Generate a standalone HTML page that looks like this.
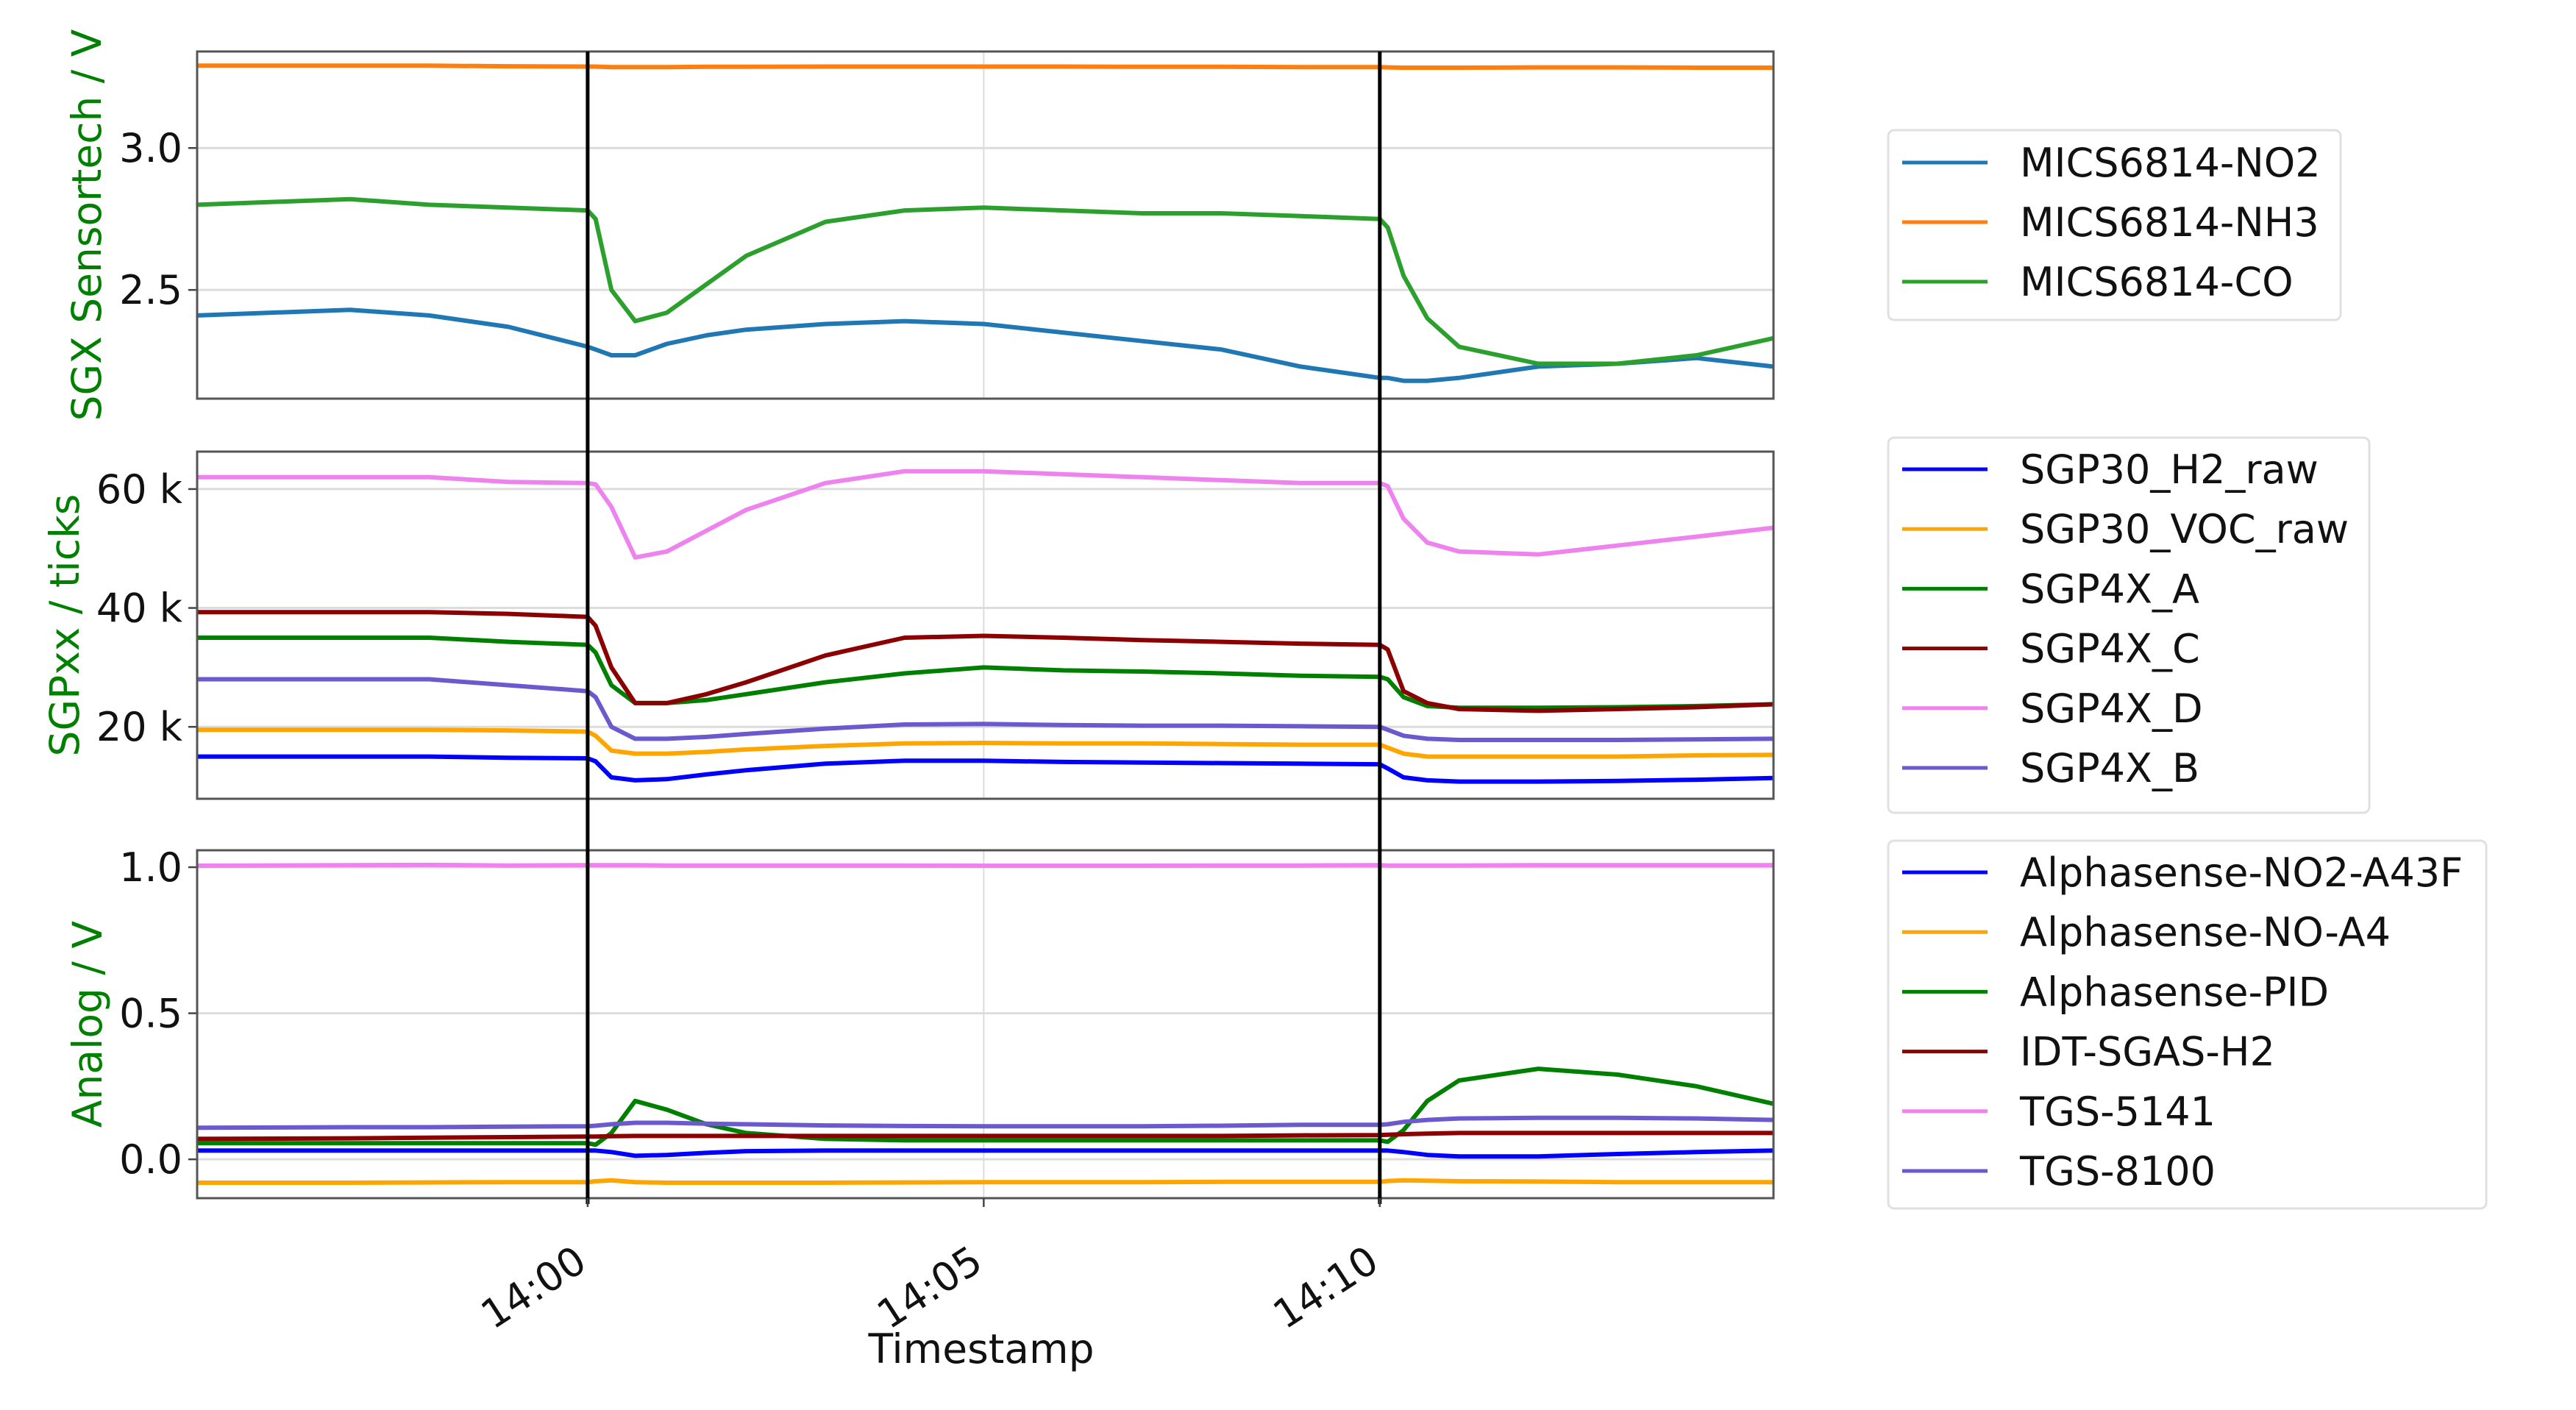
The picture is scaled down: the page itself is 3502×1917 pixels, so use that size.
<!DOCTYPE html>
<html><head><meta charset="utf-8"><style>
html,body{margin:0;padding:0;background:#fff;}
svg text{font-family:"DejaVu Sans","Liberation Sans",sans-serif;}
</style></head><body>
<svg id="chart" xmlns="http://www.w3.org/2000/svg" width="3502" height="1912" viewBox="0 0 3502 1912">
<rect x="0" y="0" width="3502" height="1912" fill="#fff"/>
<g id="grids"></g><g id="series"></g><g id="frames"></g><g id="labels"></g><g id="legends"></g>
</svg>
<script>
// shared time knots (minutes relative to 14:00)
const times = [-4.93,-3,-2,-1,0,0.1,0.3,0.6,1,1.5,2,3,4,5,6,7,8,9,10,10.1,10.3,10.6,11,12,13,14,14.97];
// top panel (V)
const micsNO2 = [2.41,2.43,2.41,2.37,2.30,2.29,2.27,2.27,2.31,2.34,2.36,2.38,2.39,2.38,2.35,2.32,2.29,2.23,2.19,2.19,2.18,2.18,2.19,2.23,2.24,2.26,2.23];
const micsNH3 = [3.29,3.29,3.29,3.288,3.287,3.287,3.285,3.285,3.285,3.286,3.286,3.287,3.287,3.287,3.287,3.286,3.286,3.285,3.285,3.284,3.283,3.283,3.283,3.284,3.284,3.283,3.283];
const micsCO  = [2.80,2.82,2.80,2.79,2.78,2.75,2.50,2.39,2.42,2.52,2.62,2.74,2.78,2.79,2.78,2.77,2.77,2.76,2.75,2.72,2.55,2.40,2.30,2.24,2.24,2.27,2.33];
// middle panel (k ticks)
const sgp30H2  = [15,15,15,14.8,14.7,14.2,11.5,11,11.2,12,12.7,13.8,14.3,14.3,14.1,14,13.9,13.8,13.7,13,11.5,11,10.8,10.8,10.9,11.1,11.4];
const sgp30VOC = [19.5,19.5,19.5,19.4,19.2,18.5,16,15.5,15.5,15.8,16.2,16.8,17.2,17.3,17.2,17.2,17.1,17,17,16.5,15.5,15,15,15,15,15.2,15.3];
const sgp4xA   = [35,35,35,34.3,33.8,32.5,27,24,24,24.5,25.5,27.5,29,30,29.5,29.3,29,28.6,28.4,28,25,23.5,23.2,23.2,23.3,23.5,23.8];
const sgp4xC   = [39.3,39.3,39.3,39,38.5,37,30,24,24,25.5,27.5,32,35,35.3,35,34.6,34.3,34,33.8,33,26,24,23,22.7,23,23.3,23.8];
const sgp4xD   = [62,62,62,61.2,61,60.8,57,48.5,49.5,53,56.5,61,63,63,62.5,62,61.5,61,61,60.5,55,51,49.5,49,50.5,52,53.5];
const sgp4xB   = [28,28,28,27,26,25,20,18,18,18.3,18.8,19.7,20.4,20.5,20.3,20.2,20.2,20.1,20,19.5,18.5,18,17.8,17.8,17.8,17.9,18];
// bottom panel (V)
const asNO2 = [0.03,0.03,0.03,0.03,0.03,0.03,0.025,0.012,0.015,0.022,0.028,0.03,0.03,0.03,0.03,0.03,0.03,0.03,0.03,0.03,0.025,0.015,0.01,0.01,0.018,0.025,0.03];
const asNO  = [-0.08,-0.08,-0.079,-0.078,-0.078,-0.075,-0.072,-0.078,-0.08,-0.08,-0.08,-0.08,-0.079,-0.078,-0.078,-0.078,-0.077,-0.077,-0.077,-0.074,-0.072,-0.073,-0.075,-0.076,-0.078,-0.078,-0.078];
const asPID = [0.055,0.055,0.055,0.055,0.055,0.05,0.09,0.20,0.17,0.12,0.09,0.07,0.065,0.065,0.065,0.065,0.065,0.065,0.065,0.06,0.10,0.20,0.27,0.31,0.29,0.25,0.19];
const idtH2 = [0.07,0.072,0.074,0.076,0.078,0.078,0.079,0.08,0.08,0.08,0.08,0.08,0.08,0.08,0.08,0.08,0.08,0.082,0.083,0.084,0.086,0.088,0.09,0.09,0.09,0.09,0.09];
const tgs5141 = [1.005,1.007,1.008,1.006,1.007,1.007,1.007,1.007,1.006,1.006,1.006,1.006,1.006,1.005,1.005,1.005,1.006,1.006,1.007,1.006,1.006,1.006,1.006,1.007,1.007,1.007,1.007];
const tgs8100 = [0.108,0.11,0.11,0.112,0.113,0.115,0.12,0.125,0.125,0.122,0.12,0.116,0.114,0.113,0.113,0.113,0.115,0.118,0.118,0.12,0.128,0.135,0.14,0.142,0.142,0.14,0.135];
// ticks
const xTicks = [0,5,10];
const xTickLabels = ["14:00","14:05","14:10"];
const eventTimes = [0,10];
const topTicks = [2.5,3.0];
const midTicks = [20,40,60];
const botTicks = [0.0,0.5,1.0];

const NS="http://www.w3.org/2000/svg";
function mk(tag,attrs,parent,txt){const e=document.createElementNS(NS,tag);for(const k in attrs)e.setAttribute(k,attrs[k]);if(txt!==undefined)e.textContent=txt;parent.appendChild(e);return e;}
const X0=268,X1=2411,T0=-4.93,T1=14.97;
function xs(t){return X0+(t-T0)/(T1-T0)*(X1-X0);}
const panels=[
 {name:"sgx",top:70,bot:542,vmin:2.117,vmax:3.34,ticks:topTicks,fmt:v=>v.toFixed(1),label:"SGX Sensortech / V",lx:122,
  series:[[micsNO2,"#1f77b4","MICS6814-NO2"],[micsNH3,"#ff7f0e","MICS6814-NH3"],[micsCO,"#2ca02c","MICS6814-CO"]],
  leg:{x:2567,y:177,w:615,h:258,y0:221}},
 {name:"sgp",top:614,bot:1086,vmin:7.9,vmax:66.3,ticks:midTicks,fmt:v=>v+" k",label:"SGPxx / ticks",lx:92,
  series:[[sgp30H2,"#0000ff","SGP30_H2_raw"],[sgp30VOC,"#ffa500","SGP30_VOC_raw"],[sgp4xA,"#008000","SGP4X_A"],[sgp4xC,"#8b0000","SGP4X_C"],[sgp4xD,"#ee82ee","SGP4X_D"],[sgp4xB,"#6a5acd","SGP4X_B"]],
  leg:{x:2567,y:595,w:654,h:510,y0:638}},
 {name:"analog",top:1156,bot:1629,vmin:-0.133,vmax:1.058,ticks:botTicks,fmt:v=>v.toFixed(1),label:"Analog / V",lx:123,
  series:[[asNO2,"#0000ff","Alphasense-NO2-A43F"],[asNO,"#ffa500","Alphasense-NO-A4"],[asPID,"#008000","Alphasense-PID"],[idtH2,"#8b0000","IDT-SGAS-H2"],[tgs5141,"#ee82ee","TGS-5141"],[tgs8100,"#6a5acd","TGS-8100"]],
  leg:{x:2567,y:1143,w:813,h:500,y0:1186}}
];
const G=document.getElementById('grids'),S=document.getElementById('series'),F=document.getElementById('frames'),L=document.getElementById('labels'),LG=document.getElementById('legends');
panels.forEach(p=>{
 const ys=v=>p.bot-(v-p.vmin)/(p.vmax-p.vmin)*(p.bot-p.top);
 p.ticks.forEach(v=>{
  const g=mk('line',{x1:X0,x2:X1,y1:ys(v),y2:ys(v),stroke:"#dcdcdc","stroke-width":3},G);
  
  
  mk('line',{x1:X0-12,x2:X0,y1:ys(v),y2:ys(v),stroke:"#444","stroke-width":2.5},F);
  const t=mk('text',{x:X0-20,y:ys(v)+19,"text-anchor":"end","font-size":54,fill:"#111"},L,p.fmt(v));
  
  
 });
 xTicks.forEach(tk=>{mk('line',{x1:xs(tk),x2:xs(tk),y1:p.top,y2:p.bot,stroke:"#dcdcdc","stroke-width":2},G);});
 p.series.forEach(s=>{
  const d=s[0].map((v,i)=>(i?'L':'M')+xs(times[i]).toFixed(1)+','+ys(v).toFixed(1)).join(' ');
  const path=mk('path',{d:d,fill:"none",stroke:s[1],"stroke-width":6,"stroke-linejoin":"round"},S);
  
  
 });
 const fr=mk('rect',{x:X0,y:p.top,width:X1-X0,height:p.bot-p.top,fill:"none",stroke:"#555","stroke-width":3},F);
 
 
 const cy=(p.top+p.bot)/2;
 const yl=mk('text',{x:p.lx,y:cy,"text-anchor":"middle","font-size":55,fill:"#008000",transform:`rotate(-90 ${p.lx} ${cy})`,"dominant-baseline":"middle"},L,p.label);
 
 
 const lg=mk('g',{},LG);
 
 
 mk('rect',{x:p.leg.x,y:p.leg.y,width:p.leg.w,height:p.leg.h,rx:8,fill:"#fff",stroke:"#e0e0e0","stroke-width":3},lg);
 const step=p.series.length===3?81:81.2;
 p.series.forEach((s,i)=>{
  const yy=p.leg.y0+i*step;
  const e=mk('g',{},lg);
  
  
  mk('line',{x1:2586,x2:2702,y1:yy,y2:yy,stroke:s[1],"stroke-width":5},e);
  mk('text',{x:2746,y:yy+19,"font-size":54,fill:"#111"},e,s[2]);
 });
});
eventTimes.forEach(t=>{
 const l=mk('line',{x1:xs(t),x2:xs(t),y1:70,y2:1637,stroke:"#000","stroke-width":5},F);
 
 
});
xTicks.forEach((tk,i)=>{
 mk('line',{x1:xs(tk),x2:xs(tk),y1:1629,y2:1641,stroke:"#444","stroke-width":2.5},F);
 const x=xs(tk)-20,y=1690;
 const t=mk('text',{x:x,y:y,"text-anchor":"end","font-size":54,fill:"#111",transform:`rotate(-33 ${x} ${y})`,"dominant-baseline":"hanging"},L,xTickLabels[i]);
 
 
});
const xt=mk('text',{x:1334,y:1853,"text-anchor":"middle","font-size":55,fill:"#111"},L,"Timestamp");


</script>
</body></html>
